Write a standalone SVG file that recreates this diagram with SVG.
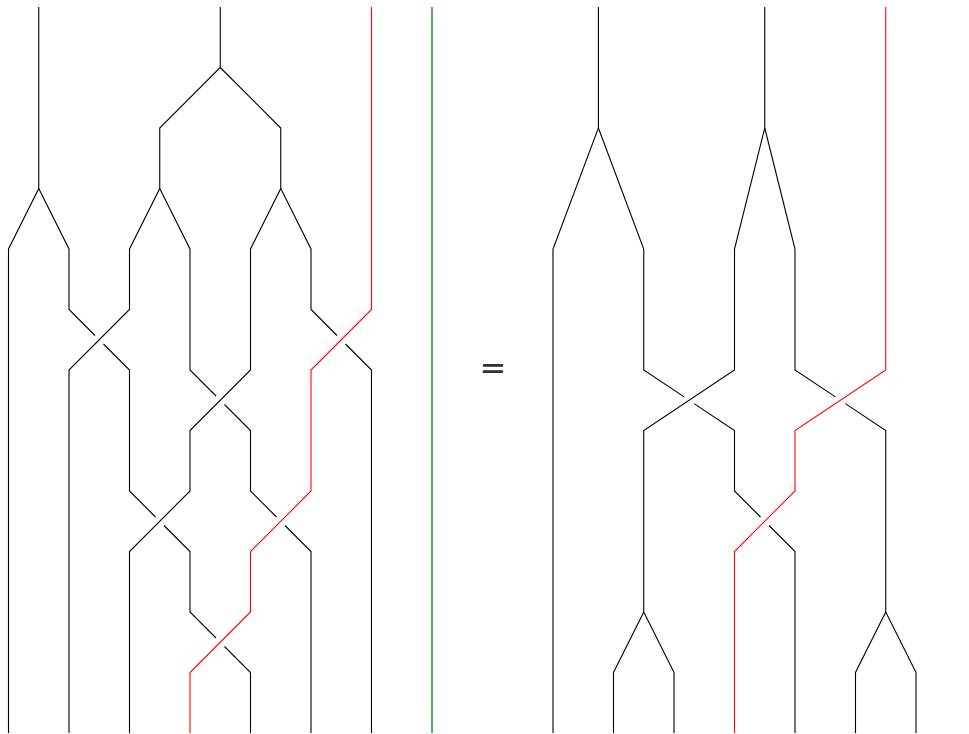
<svg xmlns="http://www.w3.org/2000/svg" width="969" height="734" viewBox="0 0 969 734">
<style>
.s{fill:none;stroke:#000;stroke-width:1.1;stroke-linejoin:miter}
.r{fill:none;stroke:#ff0000;stroke-width:1.1}
.g{fill:none;stroke:#008000;stroke-width:1.3}
.eq{font-family:"DejaVu Sans",sans-serif;font-size:32px;fill:#333}
</style>
<rect width="969" height="734" fill="#fff"/>
<g id="left-braid">
<path class="s" d="M38.75 7V188.5L8.5 249V733"/>
<path class="s" d="M38.75 188.5L69 249V309.5L95 335.5M103.5 344L129.5 370V491L155.5 517M164 525.5L190 551.5V612L216 638M224.5 646.5L250.5 672.5V733"/>
<path class="s" d="M220.25 7V67.5L159.75 128V188.5L129.5 249V309.5L69 370V733"/>
<path class="s" d="M159.75 188.5L190 249V370L216 396M224.5 404.5L250.5 430.5V491L276.5 517M285 525.5L311 551.5V733"/>
<path class="s" d="M220.25 67.5L280.75 128V188.5L250.5 249V370L190 430.5V491L129.5 551.5V733"/>
<path class="s" d="M280.75 188.5L311 249V309.5L337 335.5M345.5 344L371.5 370V733"/>
<path class="r" d="M371.5 7V309.5L311 370V491L250.5 551.5V612L190 672.5V733"/>
</g>
<g id="separator">
<line class="g" x1="432" y1="7" x2="432" y2="733"/>
</g>
<g id="equals">
<text class="eq" x="493" y="378.5" text-anchor="middle">=</text>
</g>
<g id="right-braid">
<path class="s" d="M598.4 7V128L553 249V733"/>
<path class="s" d="M598.4 128L643.75 249V370L684.1 396.9M694.1 403.6L734.5 430.5V491L760.5 517M769 525.5L795 551.5V733"/>
<path class="s" d="M764.75 7V128L734.5 249V370L643.75 430.5V612L613.5 672.5V733M643.75 612L674 672.5V733"/>
<path class="s" d="M764.75 128L795 249V370L835.4 396.9M845.4 403.6L885.75 430.5V612L855.5 672.5V733M885.75 612L916 672.5V733"/>
<path class="r" d="M885.75 7V370L795 430.5V491L734.5 551.5V733"/>
</g>
</svg>
